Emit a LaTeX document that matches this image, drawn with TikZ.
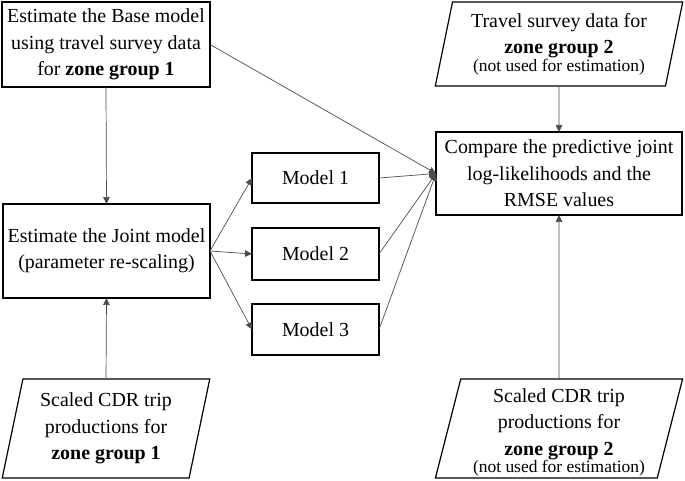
\documentclass[tikz,border=0pt]{standalone}
\usepackage{fontspec}
\setmainfont{Liberation Serif}
\usetikzlibrary{arrows.meta,shapes.geometric}
\newcommand{\smalltxt}{\fontsize{17.5}{19}\selectfont}
\begin{document}
\begin{tikzpicture}[x=1bp,y=-1bp,
  box/.style={draw=black,line width=1.2bp,rectangle,align=center,inner sep=0pt,outer sep=0pt,
     font=\fontsize{20}{26.5}\selectfont},
  para/.style={box,trapezium,trapezium left angle=77,trapezium right angle=103,trapezium stretches=true},
  conn/.style={draw=black!70,line width=0.7bp},
  arr/.style={conn,-{Triangle[length=7bp,width=6.5bp]}}]
\useasboundingbox (0,0) rectangle (685,481);
\node[box,minimum width=208bp,minimum height=85bp] (base) at (106,44.5)
  {Estimate the Base model\\using travel survey data\\for \textbf{zone group 1}};
\node[para,minimum width=248bp,minimum height=84bp] (tsd) at (559,44)
  {Travel survey data for\\\textbf{zone group 2}\\[-9bp]{\smalltxt(not used for estimation)}};
\node[box,minimum width=246bp,minimum height=83bp] (cmp) at (559,173.5)
  {Compare the predictive joint\\log-likelihoods and the\\RMSE values};
\node[box,minimum width=207bp,minimum height=94bp] (joint) at (106.5,251)
  {Estimate the Joint model\\(parameter re-scaling)};
\node[box,minimum width=127bp,minimum height=50bp] (m1) at (315.5,178) {Model 1};
\node[box,minimum width=127bp,minimum height=52bp] (m2) at (315.5,254) {Model 2};
\node[box,minimum width=127bp,minimum height=51bp] (m3) at (315.5,329.5) {Model 3};
\node[para,minimum width=208bp,minimum height=99bp] (cdr1) at (106,428.5)
  {Scaled CDR trip\\productions for\\\textbf{zone group 1}};
\node[para,minimum width=248bp,minimum height=99bp] (cdr2) at (559,428.5)
  {\rule{0pt}{22bp}Scaled CDR trip\\productions for\\\textbf{zone group 2}\\[-9bp]{\smalltxt(not used for estimation)}};
\draw[arr] (base.south) -- (joint.north);
\draw[arr] (cdr1.north) -- (joint.south);
\draw[arr] (tsd.south) -- (cmp.north);
\draw[arr] (cdr2.north) -- (cmp.south);
\draw[arr] (joint.east) -- (m1.west);
\draw[arr] (joint.east) -- (m2.west);
\draw[arr] (joint.east) -- (m3.west);
\draw[arr] (base.east) -- (cmp.west);
\draw[arr] (m1.east) -- (cmp.west);
\draw[arr] (m2.east) -- (cmp.west);
\draw[arr] (m3.east) -- (cmp.west);
\end{tikzpicture}
\end{document}
